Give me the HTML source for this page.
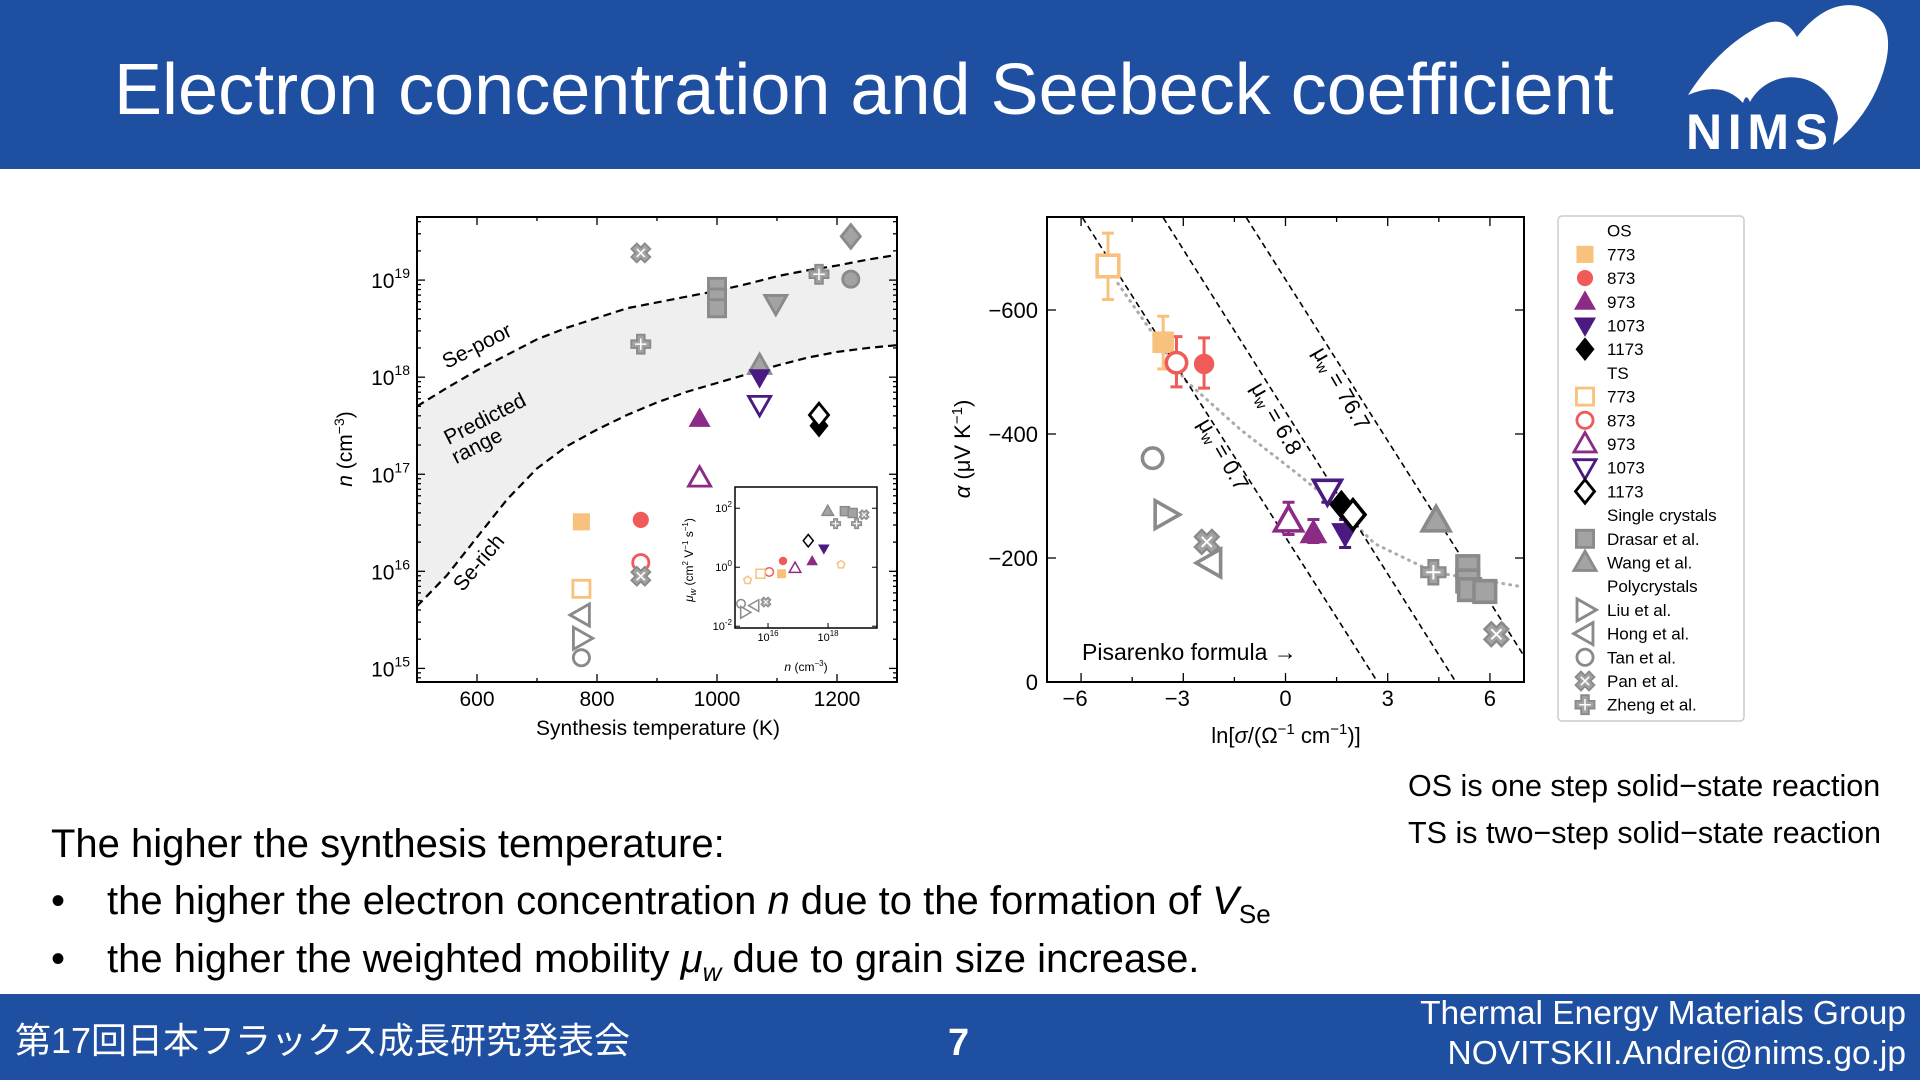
<!DOCTYPE html>
<html><head><meta charset="utf-8"><style>
html,body{margin:0;padding:0;background:#fff}
#page{position:relative;width:1920px;height:1080px;overflow:hidden;font-family:"Liberation Sans","Noto Sans CJK JP",sans-serif}
.abs{position:absolute;white-space:nowrap}
</style></head><body>
<div id="page">
<div class="abs" style="left:0;top:0;width:1920px;height:169px;background:#1f4fa1"></div>
<div class="abs" style="left:114px;top:50px;font-size:72px;line-height:80px;color:#fff">Electron concentration and Seebeck coefficient</div>
<svg class="abs" style="left:0;top:0" width="1920" height="169">
<path d="M1688,95 Q1722,42 1767,23 Q1786,17 1797,37 Q1826,0 1858,6 Q1896,16 1886,62 Q1874,112 1833,145 L1838,118 A47,47 0 0 0 1750,102 Q1746,92 1743,103 Q1722,80 1688,95 Z" fill="#fff"/>
<text x="1686" y="149" font-size="50" font-weight="bold" fill="#fff" textLength="142" font-family="Liberation Sans, sans-serif">NIMS</text>
</svg>
<div class="abs" style="left:51px;top:820px;font-size:40px;line-height:48px">The higher the synthesis temperature:</div>
<div class="abs" style="left:51px;top:877px;font-size:40px;line-height:48px">•<span style="position:absolute;left:56px">the higher the electron concentration <i>n</i> due to the formation of <i>V</i><sub style="font-size:26px">Se</sub></span></div>
<div class="abs" style="left:51px;top:935px;font-size:40px;line-height:48px">•<span style="position:absolute;left:56px">the higher the weighted mobility <i>μ<sub style="font-size:26px">w</sub></i> due to grain size increase.</span></div>
<div class="abs" style="left:1408px;top:769px;font-size:30.5px;line-height:34px">OS is one step solid−state reaction</div>
<div class="abs" style="left:1408px;top:816px;font-size:30.5px;line-height:34px">TS is two−step solid−state reaction</div>
<div class="abs" style="left:0;top:994px;width:1920px;height:86px;background:#1f4fa1"></div>
<div class="abs" style="left:15px;top:1018px;font-size:36px;line-height:46px;color:#fff">第17回日本フラックス成長研究発表会</div>
<div class="abs" style="left:948px;top:1020px;font-size:38px;line-height:46px;color:#fff;font-weight:bold">7</div>
<div class="abs" style="right:14px;top:995px;font-size:33.5px;line-height:38px;color:#fff;text-align:right">Thermal Energy Materials Group</div>
<div class="abs" style="right:14px;top:1035px;font-size:33.5px;line-height:38px;color:#fff;text-align:right">NOVITSKII.Andrei@nims.go.jp</div>
<svg id="charts" class="abs" style="left:0;top:0" width="1920" height="1080"></svg>
</div>
<script>
// ---- left chart data ----
const leftKeys = ['pan','zheng','drasar','drasar','drasar','gDown','zheng','gCircle','gDiamond','wang','os1073','ts1073','os973','ts973','os1173','ts1173','os773','os873','ts873','pan','ts773','hong','liu','tan'];
const leftT = [873,873,1000,1000,1000,1098,1170,1223,1223,1071,1071,1071,971,971,1170,1170,774,873,873,873,774,774,774,774];
const leftLogN = [19.28,18.34,18.93,18.82,18.71,18.76,19.06,19.01,19.45,18.12,18.0,17.72,17.57,16.96,17.5,17.61,16.51,16.53,16.09,15.95,15.82,15.55,15.31,15.11];
const bandT = [500,550,600,650,700,750,800,850,900,950,1000,1050,1100,1150,1200,1250,1300];
const bandUpper = [17.70,17.89,18.07,18.23,18.39,18.51,18.61,18.71,18.77,18.83,18.89,18.96,19.04,19.10,19.15,19.21,19.26];
const bandLower = [15.64,15.96,16.35,16.74,17.06,17.29,17.46,17.61,17.74,17.85,17.94,18.03,18.12,18.20,18.26,18.30,18.33];
const leftXTicks = [600,800,1000,1200];
const leftYTicks = [15,16,17,18,19];
// ---- inset data ----
const insetKeys = ['wang','drasar','drasar','pan','zheng','zheng','ts1173','os1073','os973','pent','ts973','os873','ts873','ts773','os773','pent','tan','pan','hong','liu'];
const insetLogN = [17.99,18.56,18.82,19.2,18.25,18.95,17.34,17.86,17.47,18.43,16.9,16.5,16.04,15.75,16.45,15.32,15.1,15.93,15.55,15.23];
const insetLogMu = [1.9,1.9,1.84,1.78,1.48,1.48,0.9,0.63,0.21,0.09,-0.03,0.21,-0.16,-0.22,-0.22,-0.44,-1.24,-1.18,-1.3,-1.53];
// ---- right chart data ----
const rightKeys = ['ts773','os773','ts873','os873','tan','liu','pan','hong','ts973','os973','ts1073','os1073','os1173','ts1173','wang','zheng','drasar','drasar','drasar','drasar','pan'];
const rightLnSigma = [-5.21,-3.59,-3.20,-2.39,-3.90,-3.53,-2.31,-2.20,0.09,0.82,1.23,1.75,1.64,1.98,4.42,4.34,5.35,5.35,5.40,5.85,6.19];
const rightAlpha = [-671,-548,-515,-513,-361,-270,-226,-192,-260,-240,-309,-240,-286,-270,-260,-177,-186,-163,-149,-146,-77];
const rightErrTop = [-724,-590,-557,-555,null,null,null,null,-290,-262,-325,-262,null,null,null,null,null,null,null,null,null];
const rightErrBot = [-617,-505,-476,-474,null,null,null,null,-238,-225,-290,-217,null,null,null,null,null,null,null,null,null];
const mu07Ln = [-5.96,2.68], mu07A = [-749,-2];
const mu68Ln = [-3.59,5.0], mu68A = [-749,0];
const mu767Ln = [-1.15,7.0], mu767A = [-749,-42];
const dotLn = [-4.92,-2.95,-1.32,0.30,1.46,2.62,4.36,6.91];
const dotA = [-643,-487,-407,-338,-286,-223,-177,-154];
const rightXTicks = [-6,-3,0,3,6];
const rightYTicks = [0,-200,-400,-600];
const legendLabels = [['OS',null],['773','os773'],['873','os873'],['973','os973'],['1073','os1073'],['1173','os1173'],['TS',null],['773','ts773'],['873','ts873'],['973','ts973'],['1073','ts1073'],['1173','ts1173'],['Single crystals',null],['Drasar et al.','drasar'],['Wang et al.','wang'],['Polycrystals',null],['Liu et al.','liu'],['Hong et al.','hong'],['Tan et al.','tan'],['Pan et al.','pan'],['Zheng et al.','zheng']];

const OR='#f8c27e', RD='#ee5b58', PU='#8c2b85', DP='#4a1a80', GY='#8a8a8a', GF='#a3a3a3';
const ST = {
 os773:{s:'square',f:OR,c:'none'}, os873:{s:'circle',f:RD,c:'none'}, os973:{s:'up',f:PU,c:'none'}, os1073:{s:'down',f:DP,c:'none'}, os1173:{s:'diamond',f:'#000',c:'none'},
 ts773:{s:'square',f:'#fff',c:OR,o:1}, ts873:{s:'circle',f:'#fff',c:RD,o:1}, ts973:{s:'up',f:'#fff',c:PU,o:1}, ts1073:{s:'down',f:'#fff',c:DP,o:1}, ts1173:{s:'diamond',f:'#fff',c:'#000',o:1},
 drasar:{s:'square',f:GF,c:GY,o:1}, wang:{s:'up',f:GF,c:GY,o:1}, liu:{s:'right',f:'#fff',c:GY,o:1}, hong:{s:'left',f:'#fff',c:GY,o:1}, tan:{s:'circle',f:'#fff',c:GY,o:1},
 pan:{s:'x',f:GF,c:GY}, zheng:{s:'plus',f:GF,c:GY}, gDown:{s:'down',f:GF,c:GY,o:1}, gDiamond:{s:'diamond',f:GF,c:GY,o:1}, gCircle:{s:'circle',f:GF,c:GY,o:1},
 pent:{s:'pent',f:'#fff',c:OR,o:1}
};
const NS='http://www.w3.org/2000/svg';
const svg=document.getElementById('charts');
function el(tag,attrs,parent){const e=document.createElementNS(NS,tag);for(const k in attrs)e.setAttribute(k,attrs[k]);(parent||svg).appendChild(e);return e;}
function mk(g,key,cx,cy,s){
 const st=ST[key];const sw=st.o? s*0.15:(st.c==='none'?0:1.5);
 const a={fill:st.f,stroke:st.c,'stroke-width':sw};let e;
 const h=s/2;
 if(st.s==='square'){e=el('rect',Object.assign({x:cx-h*0.9,y:cy-h*0.9,width:s*0.9,height:s*0.9},a),g);}
 else if(st.s==='circle'){e=el('circle',Object.assign({cx:cx,cy:cy,r:h*0.85},a),g);}
 else if(st.s==='pent'){let p=[];for(let i=0;i<5;i++){const t=-Math.PI/2+i*2*Math.PI/5;p.push((cx+h*0.8*Math.cos(t))+','+(cy+h*0.8*Math.sin(t)));}e=el('polygon',Object.assign({points:p.join(' ')},a),g);}
 else if(st.s==='x'||st.s==='plus'){
  const w=s*0.2, L=s*0.5;const gg=el('g',{transform:`translate(${cx},${cy}) rotate(${st.s==='x'?45:0})`},g);
  e=el('path',Object.assign({d:`M${-w},${-L}H${w}V${-w}H${L}V${w}H${w}V${L}H${-w}V${w}H${-L}V${-w}H${-w}Z`},{fill:GF,stroke:GY,'stroke-width':s*0.1}),gg);
  el('path',{d:`M0,${-L*0.6}V${L*0.6}M${-L*0.6},0H${L*0.6}`,stroke:'#fff','stroke-width':Math.max(1,s*0.08)},gg);
 }
 else {
  let p;
  if(st.s==='up')p=[[0,-0.6],[0.58,0.42],[-0.58,0.42]];
  else if(st.s==='down')p=[[0,0.6],[0.58,-0.42],[-0.58,-0.42]];
  else if(st.s==='right')p=[[0.6,0],[-0.42,0.58],[-0.42,-0.58]];
  else if(st.s==='left')p=[[-0.6,0],[0.42,0.58],[0.42,-0.58]];
  else p=[[0,-0.62],[0.5,0],[0,0.62],[-0.5,0]];
  e=el('polygon',Object.assign({points:p.map(q=>(cx+q[0]*s)+','+(cy+q[1]*s)).join(' ')},a),g);
 }
 
 
 return e;
}
function txt(x,y,s,size,attrs,parent){const t=el('text',Object.assign({x:x,y:y,'font-size':size,'font-family':'Liberation Sans, sans-serif',fill:'#000'},attrs||{}),parent);t.innerHTML=s;return t;}

// ===== LEFT CHART =====
const L={x0:417,x1:897,y0:217,y1:682,tmin:500,tmax:1300,nmin:14.86,nmax:19.65};
const lx=t=>L.x0+(t-L.tmin)/(L.tmax-L.tmin)*(L.x1-L.x0);
const ly=v=>L.y1-(v-L.nmin)/(L.nmax-L.nmin)*(L.y1-L.y0);
const gl=el('g',{});
let band='M'+bandT.map((t,i)=>lx(t)+','+ly(bandUpper[i])).join('L')+'L'+bandT.slice().reverse().map((t,i)=>lx(t)+','+ly(bandLower[bandT.length-1-i])).join('L')+'Z';
const bp=el('path',{d:band,fill:'#efefef'},gl);
const up=el('path',{d:'M'+bandT.map((t,i)=>lx(t)+','+ly(bandUpper[i])).join('L'),fill:'none',stroke:'#000','stroke-width':2.2,'stroke-dasharray':'8,5'},gl);

const lo=el('path',{d:'M'+bandT.map((t,i)=>lx(t)+','+ly(bandLower[i])).join('L'),fill:'none',stroke:'#000','stroke-width':2.2,'stroke-dasharray':'8,5'},gl);

for(let d=14;d<=19;d++){for(let m=1;m<10;m++){const v=d+Math.log10(m);if(v<L.nmin||v>L.nmax)continue;const len=m===1?8:4;
 el('line',{x1:L.x0,x2:L.x0+len,y1:ly(v),y2:ly(v),stroke:'#000','stroke-width':1.3},gl);el('line',{x1:L.x1,x2:L.x1-len,y1:ly(v),y2:ly(v),stroke:'#000','stroke-width':1.3},gl);}}
for(let t=600;t<=1200;t+=100){const len=t%200===0?8:4;el('line',{x1:lx(t),x2:lx(t),y1:L.y1,y2:L.y1-len,stroke:'#000','stroke-width':1.3},gl);el('line',{x1:lx(t),x2:lx(t),y1:L.y0,y2:L.y0+len,stroke:'#000','stroke-width':1.3},gl);}
leftYTicks.forEach(v=>{const t=txt(410,ly(v)+8,'10<tspan dy="-10" font-size="14">'+v+'</tspan>',21,{'text-anchor':'end'},gl);});
leftXTicks.forEach(v=>{const t=txt(lx(v),706,v,21,{'text-anchor':'middle'},gl);});
leftT.forEach((t,i)=>mk(gl,leftKeys[i],lx(t),ly(leftLogN[i]),19));
el('rect',{x:L.x0,y:L.y0,width:L.x1-L.x0,height:L.y1-L.y0,fill:'none',stroke:'#000','stroke-width':2},gl);
let t1=txt(658,735,'Synthesis temperature (K)',21,{'text-anchor':'middle'},gl);
t1=txt(0,0,'<tspan font-style="italic">n</tspan> (cm<tspan dy="-8" font-size="14">−3</tspan><tspan dy="8">)</tspan>',21,{'text-anchor':'middle',transform:'translate(352,449) rotate(-90)'},gl);
t1=txt(0,0,'Se-poor',21,{'text-anchor':'middle',transform:'translate(480,352) rotate(-27)'},gl);
t1=txt(0,0,'Predicted',21,{'text-anchor':'middle',transform:'translate(488,425) rotate(-27)'},gl);
t1=txt(0,0,'range',21,{'text-anchor':'middle',transform:'translate(480,452) rotate(-27)'},gl);
t1=txt(0,0,'Se-rich',21,{'text-anchor':'middle',transform:'translate(484,567) rotate(-50)'},gl);
// inset
const I={x0:735,x1:877,y0:487,y1:628,nmin:14.9,nmax:19.63,mmin:-2.06,mmax:2.72};
const ix=v=>I.x0+(v-I.nmin)/(I.nmax-I.nmin)*(I.x1-I.x0);
const iy=v=>I.y1-(v-I.mmin)/(I.mmax-I.mmin)*(I.y1-I.y0);
const gi=el('g',{},gl);
el('rect',{x:I.x0,y:I.y0,width:I.x1-I.x0,height:I.y1-I.y0,fill:'#fff',stroke:'#000','stroke-width':1.5},gi);
[16,18].forEach(v=>{el('line',{x1:ix(v),x2:ix(v),y1:I.y1,y2:I.y1-5,stroke:'#000'},gi);txt(ix(v),I.y1+13,'10<tspan dy="-5" font-size="8">'+v+'</tspan>',11,{'text-anchor':'middle'},gi);});
[2,0,-2].forEach(v=>{el('line',{x1:I.x0,x2:I.x0+5,y1:iy(v),y2:iy(v),stroke:'#000'},gi);el('line',{x1:I.x1,x2:I.x1-5,y1:iy(v),y2:iy(v),stroke:'#000'},gi);txt(I.x0-3,iy(v)+4,'10<tspan dy="-5" font-size="8">'+v+'</tspan>',11,{'text-anchor':'end'},gi);});
insetLogN.forEach((v,i)=>mk(gi,insetKeys[i],ix(v),iy(insetLogMu[i]),10));
t1=txt(806,671,'<tspan font-style="italic">n</tspan> (cm<tspan dy="-5" font-size="8">−3</tspan><tspan dy="5">)</tspan>',12,{'text-anchor':'middle'},gi);
t1=txt(0,0,'<tspan font-style="italic">μ<tspan font-size="9" dy="3">w</tspan></tspan><tspan dy="-3"> (cm</tspan><tspan dy="-5" font-size="8">2</tspan><tspan dy="5"> V</tspan><tspan dy="-5" font-size="8">−1</tspan><tspan dy="5"> s</tspan><tspan dy="-5" font-size="8">−1</tspan><tspan dy="5">)</tspan>',12,{'text-anchor':'middle',transform:'translate(693,560) rotate(-90)'},gi);

// ===== RIGHT CHART =====
const R={x0:1047,x1:1524,y0:217,y1:682,vmin:-7,vmax:7,amin:-750,amax:0};
const rx=v=>R.x0+(v-R.vmin)/(R.vmax-R.vmin)*(R.x1-R.x0);
const ry=a=>R.y1-(a-R.amax)/(R.amin-R.amax)*(R.y1-R.y0);
const gr=el('g',{});
const cp=el('clipPath',{id:'rclip'},gr);el('rect',{x:R.x0,y:R.y0,width:R.x1-R.x0,height:R.y1-R.y0},cp);
const gc=el('g',{'clip-path':'url(#rclip)'},gr);
const dl=el('path',{d:'M'+dotLn.map((v,i)=>rx(v)+','+ry(dotA[i])).join('L'),fill:'none',stroke:'#aaa','stroke-width':3,'stroke-dasharray':'1,6','stroke-linecap':'round'},gc);

[[mu07Ln,mu07A,'mu-0-7-line'],[mu68Ln,mu68A,'mu-6-8-line'],[mu767Ln,mu767A,'mu-76-7-line']].forEach(q=>{const p=el('line',{x1:rx(q[0][0]),y1:ry(q[1][0]),x2:rx(q[0][1]),y2:ry(q[1][1]),stroke:'#000','stroke-width':1.6,'stroke-dasharray':'6,4'},gc);});
for(let v=-6;v<=6;v+=1.5){const len=Number.isInteger(v/3)?9:5;el('line',{x1:rx(v),x2:rx(v),y1:R.y1,y2:R.y1-len,stroke:'#000','stroke-width':1.3},gr);el('line',{x1:rx(v),x2:rx(v),y1:R.y0,y2:R.y0+len,stroke:'#000','stroke-width':1.3},gr);}
rightYTicks.forEach(a=>{el('line',{x1:R.x0,x2:R.x0+9,y1:ry(a),y2:ry(a),stroke:'#000','stroke-width':1.3},gr);el('line',{x1:R.x1,x2:R.x1-9,y1:ry(a),y2:ry(a),stroke:'#000','stroke-width':1.3},gr);
 const t=txt(1038,ry(a)+8,a===0?'0':'−'+(-a),22,{'text-anchor':'end'},gr);});
rightXTicks.forEach(v=>{const t=txt(rx(v)-(v<0?6:0),706,v<0?'−'+(-v):v,22,{'text-anchor':'middle'},gr);});
rightLnSigma.forEach((v,i)=>{if(rightErrTop[i]!==null){const st=ST[rightKeys[i]];const col=st.c==='none'?st.f:st.c;const x=rx(v);
 const eb=el('path',{d:`M${x},${ry(rightErrTop[i])}V${ry(rightErrBot[i])}M${x-6},${ry(rightErrTop[i])}H${x+6}M${x-6},${ry(rightErrBot[i])}H${x+6}`,stroke:col,'stroke-width':3,fill:'none'},gr);
 }});
rightLnSigma.forEach((v,i)=>mk(gr,rightKeys[i],rx(v),ry(rightAlpha[i]),24));
el('rect',{x:R.x0,y:R.y0,width:R.x1-R.x0,height:R.y1-R.y0,fill:'none',stroke:'#000','stroke-width':2},gr);
t1=txt(1286,743,'ln[<tspan font-style="italic">σ</tspan>/(Ω<tspan dy="-9" font-size="15">−1</tspan><tspan dy="9"> cm</tspan><tspan dy="-9" font-size="15">−1</tspan><tspan dy="9">)]</tspan>',22,{'text-anchor':'middle'},gr);
t1=txt(0,0,'<tspan font-style="italic">α</tspan> (μV K<tspan dy="-8" font-size="15">−1</tspan><tspan dy="8">)</tspan>',22,{'text-anchor':'middle',transform:'translate(970,449) rotate(-90)'},gr);
t1=txt(1082,660,'Pisarenko formula →',23,{},gr);
t1=txt(0,0,'μ<tspan font-size="15" dy="4">w</tspan><tspan dy="-4"> = 0.7</tspan>',22,{'text-anchor':'middle',transform:'translate(1217,458) rotate(60)'},gr);
t1=txt(0,0,'μ<tspan font-size="15" dy="4">w</tspan><tspan dy="-4"> = 6.8</tspan>',22,{'text-anchor':'middle',transform:'translate(1270,422) rotate(60)'},gr);
t1=txt(0,0,'μ<tspan font-size="15" dy="4">w</tspan><tspan dy="-4"> = 76.7</tspan>',22,{'text-anchor':'middle',transform:'translate(1335,392) rotate(60)'},gr);
// legend
const lg=el('g',{});
el('rect',{x:1558,y:216,width:186,height:505,rx:4,fill:'#fff',stroke:'#ccc','stroke-width':1.5},lg);
legendLabels.forEach((q,i)=>{const y=230.7+i*23.7;if(q[1])mk(lg,q[1],1585,y,19);const t=txt(1607,y+6,q[0],17,{},lg);});
</script>
</body></html>
